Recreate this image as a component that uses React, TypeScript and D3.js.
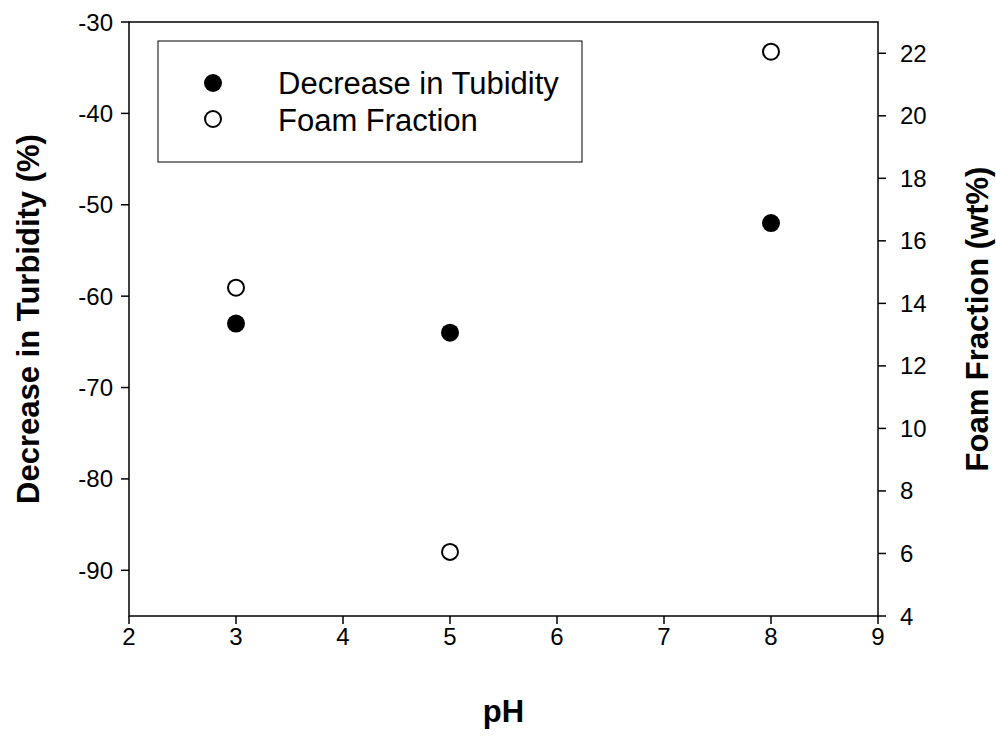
import React from "react";
import * as d3 from "d3";

// pH values and measured series
const phValues = [3, 5, 8];
const turbidity = [-63, -64, -52];
const foamFraction = [14.5, 6.05, 22.05];

const xTicks = [2, 3, 4, 5, 6, 7, 8, 9];
const leftTicks = [-90, -80, -70, -60, -50, -40, -30];
const rightTicks = [4, 6, 8, 10, 12, 14, 16, 18, 20, 22];

const legendLabels = ["Decrease in Tubidity", "Foam Fraction"];

const W = 996;
const H = 740;
const margin = { left: 129, right: 118, top: 22, bottom: 124 };
const FONT = "Arial, 'Liberation Sans', sans-serif";

export default function App() {
  const x = d3.scaleLinear().domain([2, 9]).range([margin.left, W - margin.right]);
  const yL = d3.scaleLinear().domain([-95, -30]).range([H - margin.bottom, margin.top]);
  const yR = d3.scaleLinear().domain([4, 23]).range([H - margin.bottom, margin.top]);

  const x0 = margin.left;
  const x1 = W - margin.right;
  const y0 = H - margin.bottom;
  const y1 = margin.top;
  const midY = (y0 + y1) / 2;
  const tick = 8;
  const r = 9;

  return (
    <svg width={W} height={H} style={{ position: "absolute", left: 0, top: 0, background: "#fff" }} fontFamily={FONT}>
      <rect x={0} y={0} width={W} height={H} fill="#fff" />
      {/* frame */}
      <rect x={x0} y={y1} width={x1 - x0} height={y0 - y1} fill="none" stroke="#000" strokeWidth={1.5} />

      {/* x axis */}
      {xTicks.map((t) => (
        <g key={"x" + t}>
          <line x1={x(t)} x2={x(t)} y1={y0} y2={y0 + tick} stroke="#000" strokeWidth={1.5} />
          <text x={x(t)} y={y0 + 29} textAnchor="middle" fontSize={24}>{t}</text>
        </g>
      ))}

      {/* left axis */}
      {leftTicks.map((t) => (
        <g key={"l" + t}>
          <line x1={x0 - tick} x2={x0} y1={yL(t)} y2={yL(t)} stroke="#000" strokeWidth={1.5} />
          <text x={x0 - 16} y={yL(t) + 8.5} textAnchor="end" fontSize={24}>{t}</text>
        </g>
      ))}

      {/* right axis */}
      {rightTicks.map((t) => (
        <g key={"r" + t}>
          <line x1={x1} x2={x1 + tick} y1={yR(t)} y2={yR(t)} stroke="#000" strokeWidth={1.5} />
          <text x={x1 + 22} y={yR(t) + 8.5} textAnchor="start" fontSize={24}>{t}</text>
        </g>
      ))}

      {/* axis titles */}
      <text x={(x0 + x1) / 2} y={722} textAnchor="middle" fontSize={31} fontWeight="bold">pH</text>
      <text transform={`translate(39,${midY}) rotate(-90)`} textAnchor="middle" fontSize={31} fontWeight="bold">
        Decrease in Turbidity (%)
      </text>
      <text transform={`translate(988,${midY}) rotate(-90)`} textAnchor="middle" fontSize={31} fontWeight="bold">
        Foam Fraction (wt%)
      </text>

      {/* data */}
      {phValues.map((p, i) => (
        <circle key={"t" + i} cx={x(p)} cy={yL(turbidity[i])} r={r} fill="#000" />
      ))}
      {phValues.map((p, i) => (
        <circle key={"f" + i} cx={x(p)} cy={yR(foamFraction[i])} r={r - 1} fill="#fff" stroke="#000" strokeWidth={2} />
      ))}

      {/* legend */}
      <rect x={158} y={41} width={424} height={121} fill="#fff" stroke="#000" strokeWidth={1} />
      <circle cx={213} cy={83} r={r} fill="#000" />
      <circle cx={213} cy={119} r={r - 1} fill="#fff" stroke="#000" strokeWidth={2} />
      <text x={278} y={94} fontSize={31}>{legendLabels[0]}</text>
      <text x={278} y={131} fontSize={31}>{legendLabels[1]}</text>
    </svg>
  );
}
